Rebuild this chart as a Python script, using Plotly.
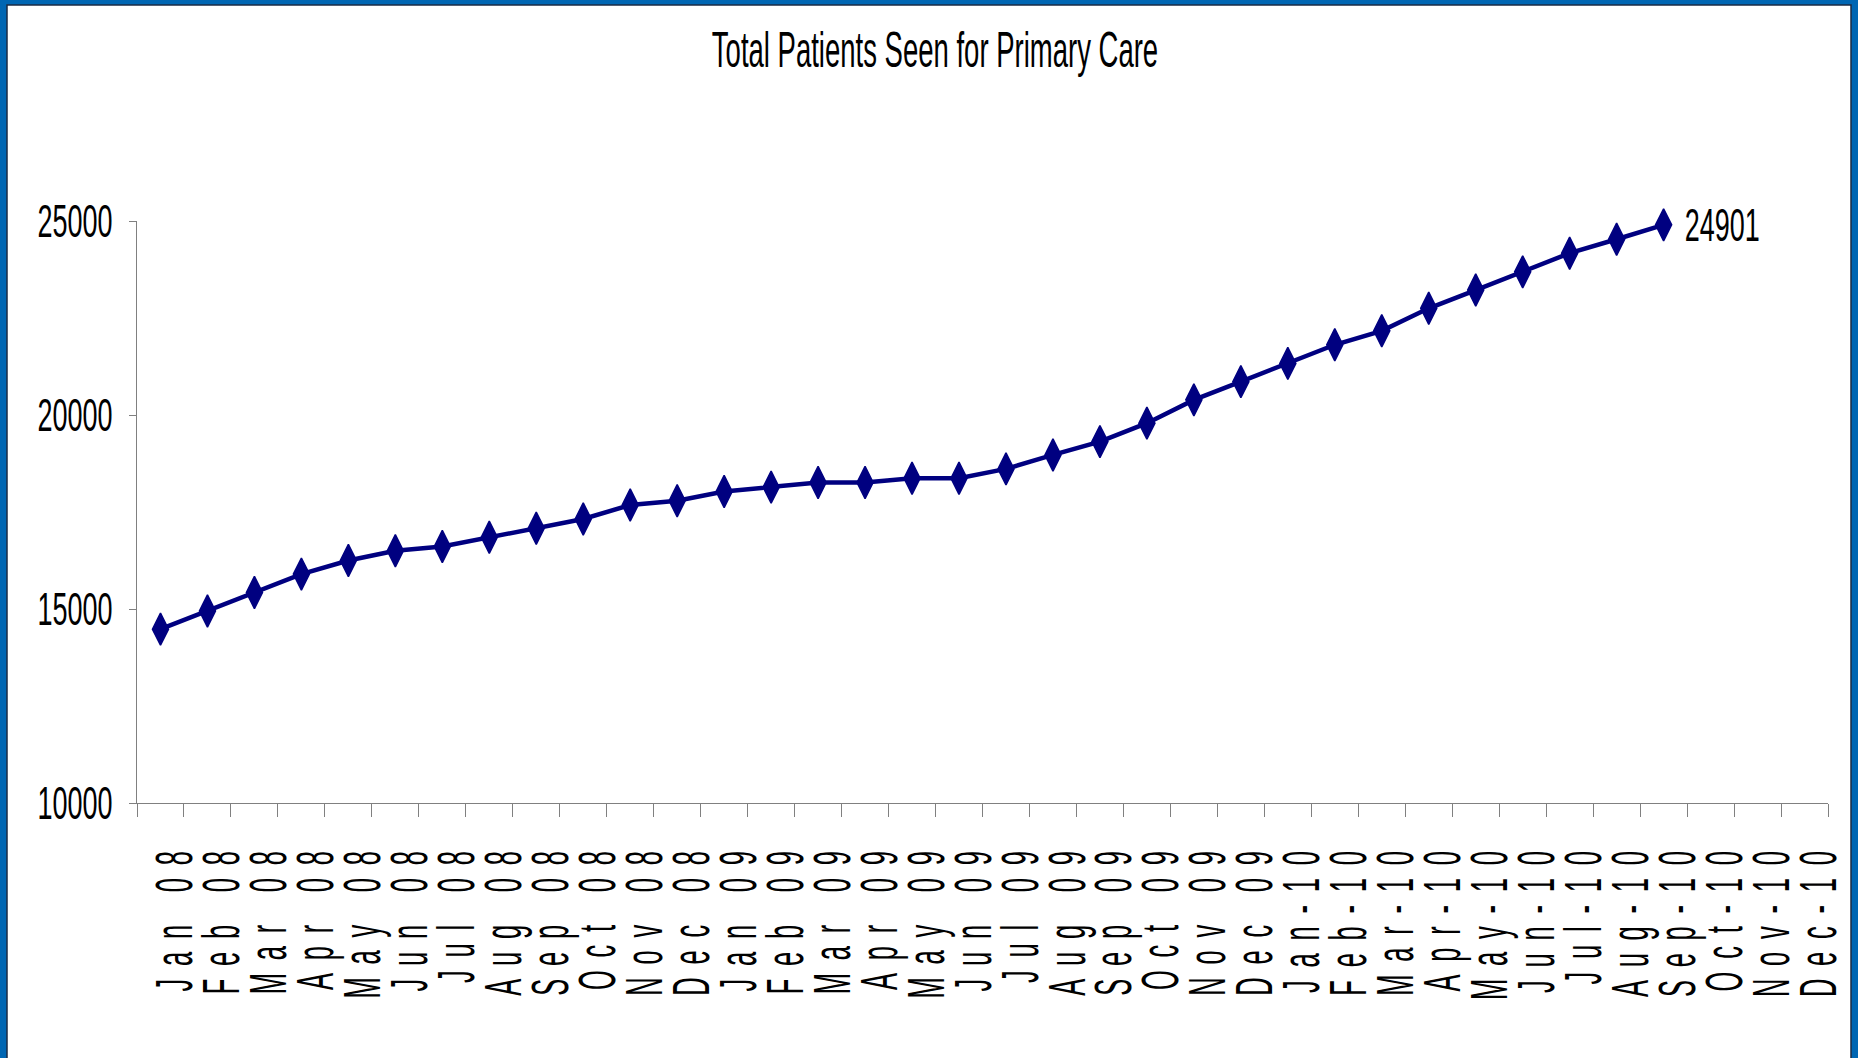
import plotly.graph_objects as go

# Month categories along the x axis (the axis runs through Dec-10)
months = [
    "Jan 08", "Feb 08", "Mar 08", "Apr 08", "May 08", "Jun 08",
    "Jul 08", "Aug 08", "Sep 08", "Oct 08", "Nov 08", "Dec 08",
    "Jan 09", "Feb 09", "Mar 09", "Apr 09", "May 09", "Jun 09",
    "Jul 09", "Aug 09", "Sep 09", "Oct 09", "Nov 09", "Dec 09",
    "Jan-10", "Feb-10", "Mar-10", "Apr-10", "May-10", "Jun-10",
    "Jul-10", "Aug-10", "Sep-10", "Oct-10", "Nov-10", "Dec-10",
]

# Cumulative patients seen for primary care, Jan 08 - Sep-10
patients = [
    14480, 14950, 15425, 15900, 16250, 16500,
    16610, 16850, 17080, 17320, 17680, 17790,
    18030, 18140, 18260, 18260, 18370, 18370,
    18610, 18970, 19315, 19790, 20390, 20860,
    21330, 21810, 22170, 22750, 23220, 23690,
    24170, 24530, 24901,
]

y_ticks = [10000, 15000, 20000, 25000]

W, H = 1858, 1058
M_L, M_R, M_T, M_B = 137, 30, 221, 255
PLOT_W = W - M_L - M_R
PLOT_H = H - M_T - M_B

FONT = "Liberation Sans, Arial, sans-serif"
LINE_BLUE = "#000080"
FRAME_BLUE = "#0066B3"
AXIS_GREY = "#808080"


def px_x(px):
    """Pixel column -> paper x."""
    return (px - M_L) / PLOT_W


def px_y(py):
    """Pixel row (from top) -> paper y."""
    return (H - M_B - py) / PLOT_H


fig = go.Figure()

fig.add_trace(go.Scatter(
    x=months[:len(patients)],
    y=patients,
    mode="lines+markers",
    line=dict(color=LINE_BLUE, width=4.5),
    marker=dict(
        symbol="diamond-tall",
        size=23,
        color=LINE_BLUE,
        line=dict(color=LINE_BLUE, width=1.5),
    ),
    cliponaxis=False,
    showlegend=False,
))

# Value label on the latest month
fig.add_annotation(
    x=months[len(patients) - 1],
    y=patients[-1],
    text=str(patients[-1]),
    showarrow=False,
    xanchor="center",
    yanchor="middle",
    xshift=59,
    font=dict(family=FONT, size=47, color="black"),
)

# White slide panel inside the blue frame
fig.add_shape(
    type="rect",
    xref="paper", yref="paper",
    x0=px_x(7), x1=px_x(1851),
    y0=px_y(H + 10), y1=px_y(5),
    fillcolor="white",
    line=dict(color="#1b2b44", width=1.5),
    layer="below",
)

fig.update_layout(
    width=W,
    height=H,
    margin=dict(l=M_L, r=M_R, t=M_T, b=M_B),
    paper_bgcolor=FRAME_BLUE,
    plot_bgcolor="white",
    title=dict(
        text="Total Patients Seen for Primary Care",
        x=935 / W,
        xref="container",
        xanchor="center",
        y=1 - 49 / H,
        yref="container",
        yanchor="middle",
        font=dict(family=FONT, size=50, color="black"),
    ),
    xaxis=dict(
        type="category",
        categoryorder="array",
        categoryarray=months,
        range=[-0.5, len(months) - 0.5],
        tickvals=months,
        ticktext=months,
        tickangle=-90,
        tickson="boundaries",
        ticks="outside",
        ticklen=13,
        tickcolor=AXIS_GREY,
        tickwidth=1,
        ticklabelstandoff=14,
        ticklabelshift=15,
        showline=True,
        linecolor=AXIS_GREY,
        linewidth=1,
        showgrid=False,
        zeroline=False,
        automargin=False,
        tickfont=dict(family=FONT, size=51, color="black"),
    ),
    yaxis=dict(
        range=[y_ticks[0], y_ticks[-1]],
        tickvals=y_ticks,
        ticktext=[str(v) for v in y_ticks],
        ticks="outside",
        ticklen=7,
        tickcolor=AXIS_GREY,
        tickwidth=1,
        ticklabelstandoff=7,
        showline=True,
        linecolor=AXIS_GREY,
        linewidth=1,
        showgrid=False,
        zeroline=False,
        automargin=False,
        tickfont=dict(family=FONT, size=47, color="black"),
    ),
)

# Narrow the lettering into a condensed face (tall glyphs, tight advance);
# the month labels are also letter-spaced.
condense_js = """
function condense(sel, k, spacing) {
  document.querySelectorAll(sel).forEach(function (t) {
    if (spacing) { t.style.letterSpacing = spacing; }
    var len = t.getComputedTextLength();
    t.setAttribute('textLength', (len * k).toFixed(1));
    t.setAttribute('lengthAdjust', 'spacingAndGlyphs');
  });
}
condense('.gtitle', 0.55);
condense('.ytick text', 0.574);
condense('.annotation-text', 0.574);
condense('.xtick text', 0.5, '0.5em');
"""

fig.write_html("out.html", post_script=condense_js)
